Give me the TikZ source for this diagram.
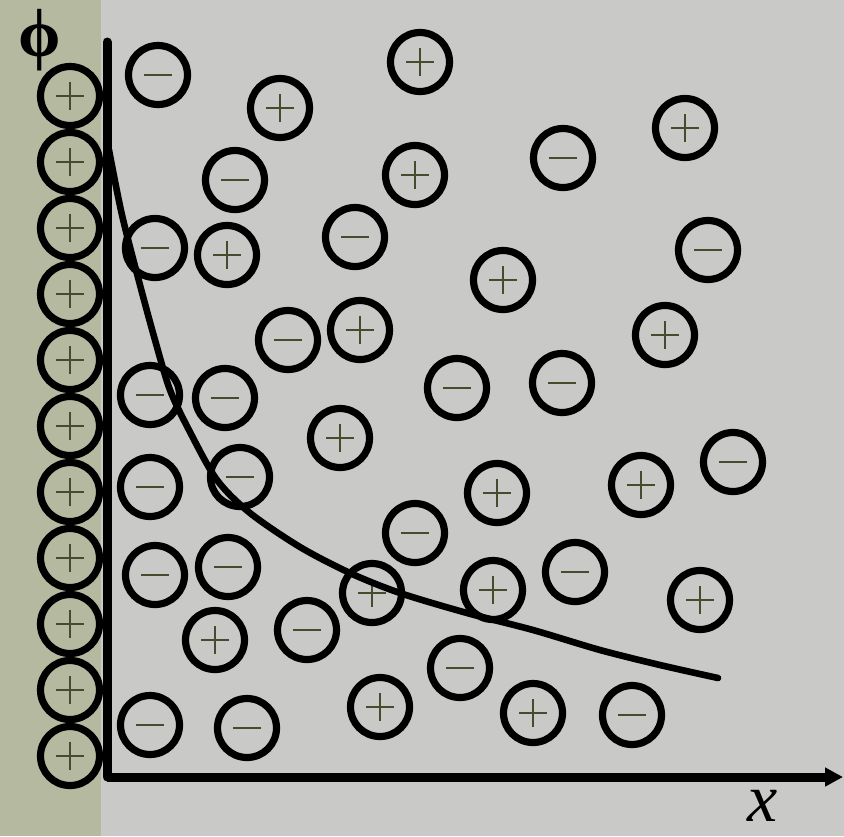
\documentclass[tikz,border=0pt]{standalone}
\usepackage{fontspec}
\setmainfont{Liberation Serif}
\usepackage{tikz}
\usetikzlibrary{arrows.meta}
\definecolor{bggray}{RGB}{201,201,200}
\definecolor{wallolive}{RGB}{181,185,160}
\definecolor{signolive}{RGB}{72,74,46}

\begin{document}
\begin{tikzpicture}[x=0.5pt, y=-0.5pt, >=Latex,
    ion/.style={circle, draw=black, line width=3.6pt, minimum size=29.5pt, inner sep=0pt},
    anion/.style={ion, path picture={
        \draw[signolive, line width=1.3pt] ([xshift=-7pt]path picture bounding box.center) -- ([xshift=7pt]path picture bounding box.center);}},
    cation/.style={ion, path picture={
        \draw[signolive, line width=1.3pt] ([xshift=-7pt]path picture bounding box.center) -- ([xshift=7pt]path picture bounding box.center)
          ([yshift=-7pt]path picture bounding box.center) -- ([yshift=7pt]path picture bounding box.center);}},
    wallion/.style={cation, fill=wallolive}]
      \useasboundingbox (0,0) rectangle (844,836);
      \fill[bggray] (0,0) rectangle (844,836);
      \fill[wallolive] (0,0) rectangle (101,836);
      % charged wall
      \foreach \k in {0,...,10}
        \node[wallion] (w\k) at (70,{96+66*\k}) {};
      % axes
      \coordinate (o) at (107,777);
      \coordinate (ytop) at (107,42);
      \coordinate (xend) at (843,777);
      \draw[line width=4.5pt, line cap=round] (ytop) -- (o);
      \draw[line width=4.5pt, -{Triangle[length=9pt,width=9pt]}] (o) -- (xend);
      \node[font=\fontsize{34}{34}\selectfont\bfseries, inner sep=0pt] (phi) at (40,40) {ϕ};
      \node[font=\fontsize{34}{34}\selectfont\itshape] (xlab) at (763,806) {x};
      % counter-ions
      \foreach \x/\y [count=\i] in {158/75, 235/180, 155/248, 355/237, 563/158, 708/250,
          288/340, 150/395, 225/398, 457/388, 562/383, 150/487, 240/477, 415/533,
          155/575, 228/567, 307/630, 575/572, 460/668, 150/725, 247/728, 632/715, 733/462}
        \node[anion] (m\i) at (\x,\y) {};
      \foreach \x/\y [count=\i] in {420/62, 280/108, 685/128, 415/175, 227/255, 503/280,
          360/330, 665/335, 340/438, 497/493, 641/485, 372/593, 493/590, 700/600,
          215/640, 380/707, 533/713}
        \node[cation] (p\i) at (\x,\y) {};
      % potential
      \draw[line width=3.3pt, line cap=round] plot[smooth] coordinates {(109,150) (122,215) (140,285)
          (155,340) (170,390) (190,432) (217,480) (250,513) (300,547) (350,573) (400,593)
          (467,613) (533,630) (600,650) (660,665) (718,678)};
    \end{tikzpicture}
\end{document}
